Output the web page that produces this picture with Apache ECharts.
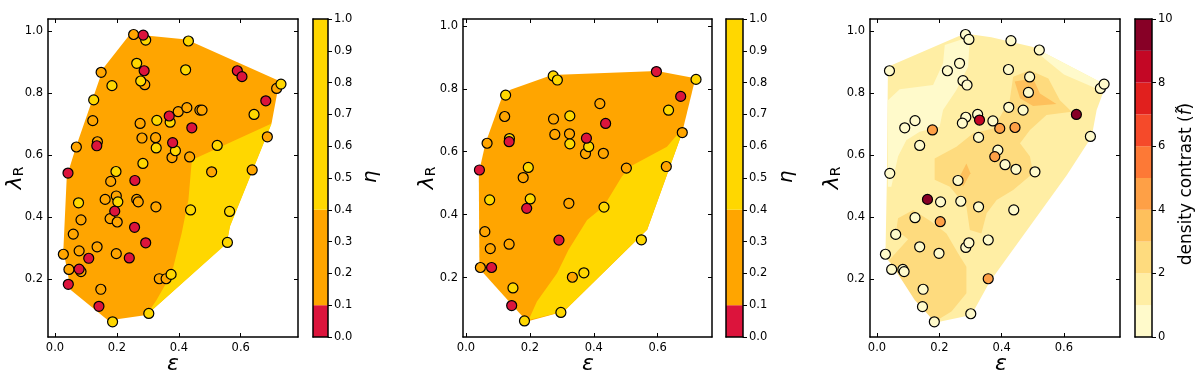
<!DOCTYPE html>
<html><head><meta charset="utf-8">
<script src="https://cdn.jsdelivr.net/npm/echarts@6/dist/echarts.min.js"></script>
<style>html,body{margin:0;padding:0;background:#fff}#c{width:1200px;height:376px}</style>
</head><body><div id="c"></div><script>
// ---------------- DATA ----------------
// Panel 1 (eta, all galaxies)
const p1Red = [[0.285,0.987],[0.288,0.872],[0.589,0.872],[0.604,0.853],[0.135,0.630],[0.042,0.542],[0.369,0.726],[0.442,0.688],[0.681,0.775],[0.380,0.640],[0.258,0.518],[0.193,0.419],[0.257,0.367],[0.293,0.317],[0.109,0.267],[0.240,0.268],[0.078,0.232],[0.043,0.183],[0.142,0.112]];
const p1Orange = [[0.254,0.989],[0.149,0.867],[0.290,0.827],[0.122,0.711],[0.069,0.626],[0.137,0.643],[0.275,0.702],[0.398,0.740],[0.426,0.753],[0.468,0.745],[0.475,0.745],[0.716,0.815],[0.686,0.659],[0.281,0.655],[0.325,0.656],[0.378,0.592],[0.435,0.594],[0.506,0.546],[0.637,0.552],[0.180,0.515],[0.162,0.457],[0.198,0.468],[0.264,0.457],[0.269,0.449],[0.178,0.395],[0.201,0.384],[0.326,0.433],[0.084,0.391],[0.059,0.345],[0.027,0.280],[0.078,0.291],[0.136,0.304],[0.198,0.282],[0.045,0.231],[0.084,0.224],[0.148,0.167],[0.337,0.201],[0.359,0.201]];
const p1Yellow = [[0.293,0.971],[0.431,0.968],[0.264,0.896],[0.422,0.875],[0.277,0.839],[0.184,0.824],[0.125,0.778],[0.329,0.712],[0.372,0.706],[0.643,0.731],[0.730,0.829],[0.524,0.631],[0.327,0.623],[0.389,0.614],[0.284,0.573],[0.197,0.547],[0.203,0.449],[0.438,0.423],[0.564,0.418],[0.076,0.446],[0.557,0.318],[0.186,0.062],[0.303,0.089],[0.375,0.215]];
const p1HullOrange = [[0.156,0.880],[0.248,0.997],[0.302,0.985],[0.425,0.973],[0.725,0.839],[0.700,0.704],[0.565,0.371],[0.555,0.317],[0.296,0.084],[0.172,0.066],[0.051,0.165],[0.027,0.294],[0.038,0.530],[0.068,0.627]];
const p1RegionYellow = [[0.442,0.584],[0.700,0.702],[0.565,0.369],[0.555,0.315],[0.296,0.084],[0.328,0.132],[0.377,0.218],[0.409,0.347],[0.431,0.455]];

// Panel 2 (eta, subset)
const p2Red = [[0.596,0.855],[0.672,0.776],[0.437,0.690],[0.135,0.632],[0.377,0.643],[0.042,0.542],[0.190,0.420],[0.291,0.319],[0.080,0.232],[0.143,0.111]];
const p2Orange = [[0.677,0.661],[0.121,0.712],[0.419,0.753],[0.274,0.704],[0.278,0.655],[0.324,0.657],[0.066,0.627],[0.374,0.594],[0.430,0.595],[0.502,0.548],[0.627,0.553],[0.179,0.518],[0.322,0.436],[0.059,0.346],[0.076,0.292],[0.135,0.306],[0.045,0.232],[0.333,0.201]];
const p2Yellow = [[0.273,0.841],[0.286,0.828],[0.124,0.780],[0.720,0.830],[0.634,0.732],[0.325,0.714],[0.325,0.625],[0.136,0.642],[0.384,0.616],[0.195,0.550],[0.074,0.447],[0.201,0.450],[0.432,0.424],[0.549,0.320],[0.147,0.167],[0.183,0.062],[0.297,0.089],[0.369,0.215]];
const p2HullOrange = [[0.113,0.775],[0.139,0.797],[0.269,0.844],[0.598,0.857],[0.718,0.834],[0.676,0.659],[0.567,0.352],[0.306,0.092],[0.191,0.060],[0.055,0.214],[0.042,0.235],[0.040,0.532],[0.061,0.627]];
const p2RegionYellow = [[0.681,0.678],[0.676,0.659],[0.567,0.352],[0.306,0.092],[0.196,0.065],[0.222,0.124],[0.285,0.214],[0.321,0.288],[0.379,0.383],[0.431,0.426],[0.488,0.521],[0.514,0.553],[0.629,0.616]];

// Panel 3 (density contrast)
const p3Pale = [[0.284,0.989],[0.295,0.973],[0.430,0.969],[0.521,0.939],[0.040,0.872],[0.226,0.872],[0.265,0.896],[0.276,0.840],[0.289,0.826],[0.422,0.876],[0.490,0.852],[0.486,0.802],[0.717,0.815],[0.729,0.829],[0.423,0.754],[0.469,0.745],[0.323,0.731],[0.285,0.722],[0.274,0.703],[0.372,0.710],[0.122,0.711],[0.089,0.688],[0.137,0.631],[0.326,0.657],[0.388,0.616],[0.411,0.569],[0.446,0.554],[0.507,0.546],[0.685,0.660],[0.041,0.541],[0.260,0.518],[0.204,0.449],[0.269,0.451],[0.326,0.433],[0.439,0.423],[0.122,0.398],[0.060,0.344],[0.285,0.302],[0.295,0.317],[0.357,0.326],[0.137,0.304],[0.199,0.283],[0.027,0.280],[0.047,0.231],[0.083,0.231],[0.087,0.224],[0.148,0.167],[0.146,0.111],[0.301,0.088],[0.184,0.062]];
const p3Orange = [[0.394,0.686],[0.443,0.689],[0.178,0.681],[0.378,0.595],[0.203,0.385],[0.357,0.201]];
const p3Red = [[0.329,0.713]];
const p3DarkRed = [[0.640,0.731],[0.162,0.457]];
const p3Hull = [[0.035,0.885],[0.282,0.992],[0.367,0.980],[0.501,0.949],[0.735,0.826],[0.705,0.745],[0.689,0.659],[0.609,0.535],[0.362,0.191],[0.303,0.084],[0.185,0.059],[0.062,0.224],[0.027,0.272],[0.032,0.541]];
const p3Level0a = [[0.2175,0.955],[0.298,0.982],[0.2925,0.885],[0.255,0.810],[0.212,0.745],[0.201,0.691],[0.137,0.675],[0.094,0.648],[0.0675,0.595],[0.046,0.498],[0.035,0.498],[0.035,0.777],[0.073,0.812],[0.180,0.826],[0.212,0.896]];
const p3Level0b = [[0.501,0.949],[0.735,0.826],[0.715,0.810],[0.600,0.860],[0.520,0.925]];
const p3Level2a = [[0.0675,0.396],[0.116,0.423],[0.175,0.385],[0.223,0.347],[0.260,0.283],[0.287,0.240],[0.287,0.154],[0.239,0.095],[0.185,0.062],[0.121,0.132],[0.062,0.224],[0.039,0.261],[0.100,0.328],[0.062,0.358]];
const p3Level2b = [[0.185,0.589],[0.255,0.627],[0.309,0.670],[0.373,0.686],[0.426,0.777],[0.437,0.853],[0.491,0.874],[0.550,0.847],[0.587,0.777],[0.625,0.740],[0.544,0.729],[0.491,0.681],[0.459,0.638],[0.491,0.595],[0.501,0.541],[0.437,0.487],[0.384,0.455],[0.352,0.412],[0.335,0.347],[0.298,0.358],[0.287,0.433],[0.234,0.498],[0.185,0.520]];
const p3Level3a = [[0.442,0.837],[0.501,0.847],[0.523,0.799],[0.576,0.765],[0.501,0.758],[0.459,0.783]];
const p3Level3b = [[0.266,0.532],[0.287,0.573],[0.300,0.541],[0.276,0.498]];

// Colour bars
const etaBounds = [0, 0.1, 0.4, 1.0];
const etaColors = ['#dc143c', '#ffa500', '#ffd700'];
const fBounds = [0,1,2,3,4,5,6,7,8,9,10];
const fColors = ['#fffacb','#ffeea4','#fedb7e','#fec05c','#fea046','#fd7936','#f54a2a','#e1201e','#c30725','#870026'];
const xTicks = [0.0,0.2,0.4,0.6];
const yTicks = [0.2,0.4,0.6,0.8,1.0];

// ---------------- LAYOUT ----------------
const FONT = 'DejaVu Sans';
const plotGrids = [
  {left:48, top:19, width:250, height:318},
  {left:463, top:19, width:249, height:318},
  {left:870, top:19, width:250, height:318}
];
const xRanges = [[-0.0226,0.785],[-0.0094,0.770],[-0.0225,0.780]];
const yRanges = [[0.013,1.039],[0.011,1.022],[0.013,1.039]];
const cbGrids = [
  {left:313, top:19, width:15, height:318},
  {left:726, top:19, width:17, height:318},
  {left:1135, top:19, width:17, height:318}
];

const grids=[], xAxes=[], yAxes=[], series=[];
const lblStyle = {color:'#000', fontFamily:FONT, fontSize:11.5};
const lineStyle = {color:'#000', width:1.5};

function addPlot(i){
  grids.push(plotGrids[i]);
  const gi = grids.length-1;
  const xi = xAxes.length, yi = yAxes.length;
  ['bottom','top'].forEach(pos=>{
    xAxes.push({gridIndex:gi, type:'value', position:pos, min:xRanges[i][0], max:xRanges[i][1], z:10,
      axisLine:{show:true, onZero:false, lineStyle},
      axisTick:{show:true, inside:true, length:4, customValues:xTicks, lineStyle:{color:'#000'}},
      axisLabel:Object.assign({show:pos==='bottom', customValues:xTicks, margin:5, formatter:v=>Number(v).toFixed(1)}, lblStyle),
      splitLine:{show:false}});
  });
  ['left','right'].forEach(pos=>{
    yAxes.push({gridIndex:gi, type:'value', position:pos, min:yRanges[i][0], max:yRanges[i][1], z:10,
      axisLine:{show:true, onZero:false, lineStyle},
      axisTick:{show:true, inside:true, length:4, customValues:yTicks, lineStyle:{color:'#000'}},
      axisLabel:Object.assign({show:pos==='left', customValues:yTicks, margin:5, formatter:v=>Number(v).toFixed(1)}, lblStyle),
      splitLine:{show:false}});
  });
  return {xi, yi};
}

function polySeries(ax, polys, colors){
  return {type:'custom', xAxisIndex:ax.xi, yAxisIndex:ax.yi, z:1, silent:true, animation:false,
    data: polys.map(p=>p[0]),
    renderItem:(params, api)=>{
      const poly = polys[params.dataIndex];
      return {type:'polygon', shape:{points:poly.map(pt=>api.coord(pt))}, style:{fill:colors[params.dataIndex]}};
    }};
}
function scatterSeries(ax, data, color, z){
  return {type:'scatter', xAxisIndex:ax.xi, yAxisIndex:ax.yi, data, symbol:'circle', symbolSize:10, z:z||3,
    itemStyle:{color, borderColor:'#000', borderWidth:1.2, opacity:1}, silent:true, animation:false};
}

function addColorbar(i, bounds, colors, max, interval, fmt){
  grids.push(cbGrids[i]);
  const gi = grids.length-1;
  const xi = xAxes.length, yi = yAxes.length;
  ['bottom','top'].forEach(pos=>{
    xAxes.push({gridIndex:gi, type:'value', position:pos, min:0, max:1, z:10,
      axisLine:{show:true, onZero:false, lineStyle}, axisTick:{show:false}, axisLabel:{show:false}, splitLine:{show:false}});
  });
  yAxes.push({gridIndex:gi, type:'value', position:'right', min:0, max, interval, z:10,
    axisLine:{show:true, onZero:false, lineStyle},
    axisTick:{show:true, inside:false, length:4, lineStyle:{color:'#000'}},
    axisLabel:Object.assign({show:true, margin:6, formatter:fmt}, lblStyle),
    splitLine:{show:false}});
  yAxes.push({gridIndex:gi, type:'value', position:'left', min:0, max, z:10,
    axisLine:{show:true, onZero:false, lineStyle}, axisTick:{show:false}, axisLabel:{show:false}, splitLine:{show:false}});
  const levels = colors.map((c,k)=>[bounds[k], bounds[k+1]]);
  series.push({type:'custom', xAxisIndex:xi, yAxisIndex:yi, z:1, silent:true, animation:false,
    data: levels,
    renderItem:(params, api)=>{
      const lo = api.value(0), hi = api.value(1);
      const p0 = api.coord([0, lo]), p1 = api.coord([1, hi]);
      return {type:'rect', shape:{x:p0[0], y:p1[1], width:p1[0]-p0[0], height:p0[1]-p1[1]},
        style:{fill:colors[params.dataIndex]}};
    }});
}

// Panel 1
let ax = addPlot(0);
series.push(polySeries(ax, [p1HullOrange, p1RegionYellow], ['#ffa500','#ffd700']));
series.push(scatterSeries(ax, p1Orange, '#ffa500', 3));
series.push(scatterSeries(ax, p1Yellow, '#ffd700', 4));
series.push(scatterSeries(ax, p1Red, '#dc143c', 5));
// Panel 2
ax = addPlot(1);
series.push(polySeries(ax, [p2HullOrange, p2RegionYellow], ['#ffa500','#ffd700']));
series.push(scatterSeries(ax, p2Orange, '#ffa500', 3));
series.push(scatterSeries(ax, p2Yellow, '#ffd700', 4));
series.push(scatterSeries(ax, p2Red, '#dc143c', 5));
// Panel 3
ax = addPlot(2);
series.push(polySeries(ax,
  [p3Hull, p3Level0a, p3Level0b, p3Level2a, p3Level2b, p3Level3a, p3Level3b],
  [fColors[1], fColors[0], fColors[0], fColors[2], fColors[2], fColors[3], fColors[3]]));
series.push(scatterSeries(ax, p3Pale, fColors[0], 3));
series.push(scatterSeries(ax, p3Orange, fColors[4], 4));
series.push(scatterSeries(ax, p3Red, fColors[8], 5));
series.push(scatterSeries(ax, p3DarkRed, fColors[9], 5));

// Colour bars
addColorbar(0, etaBounds, etaColors, 1, 0.1, v=>Number(v).toFixed(1));
addColorbar(1, etaBounds, etaColors, 1, 0.1, v=>Number(v).toFixed(1));
addColorbar(2, fBounds, fColors, 10, 2, v=>String(Math.round(v)));

// Axis titles
const graphic = [];
[[173,364],[588,364],[1001,364]].forEach(p=>{
  graphic.push({type:'text', x:p[0], y:p[1], silent:true,
    style:{text:'ε', fontFamily:FONT, fontStyle:'italic', fontSize:22, fill:'#000', align:'center', verticalAlign:'middle'}});
});
[[15,178],[427,178],[832,178]].forEach(p=>{
  graphic.push({type:'text', x:p[0], y:p[1], rotation:Math.PI/2, silent:true,
    style:{text:'{a|λ}{b|R}', align:'center', verticalAlign:'middle',
      rich:{a:{fontFamily:FONT, fontStyle:'italic', fontSize:22, fill:'#000', verticalAlign:'bottom'},
            b:{fontFamily:FONT, fontSize:14, fill:'#000', verticalAlign:'bottom'}}}});
});
[[371,177],[787,177]].forEach(p=>{
  graphic.push({type:'text', x:p[0], y:p[1], rotation:Math.PI/2, silent:true,
    style:{text:'η', fontFamily:FONT, fontStyle:'italic', fontSize:20, fill:'#000', align:'center', verticalAlign:'middle'}});
});
graphic.push({type:'text', x:1187, y:184, rotation:Math.PI/2, silent:true,
  style:{text:'{a|density contrast (}{f|f\u0303}{a|)}', align:'center', verticalAlign:'middle',
    rich:{a:{fontFamily:FONT, fontSize:17, fill:'#000'}, f:{fontFamily:FONT, fontStyle:'italic', fontSize:17, fill:'#000'}}}});

const chart = echarts.init(document.getElementById('c'), null, {renderer:'canvas'});
chart.setOption({animation:false, backgroundColor:'#fff', grid:grids, xAxis:xAxes, yAxis:yAxes, series, graphic});
</script></body></html>
